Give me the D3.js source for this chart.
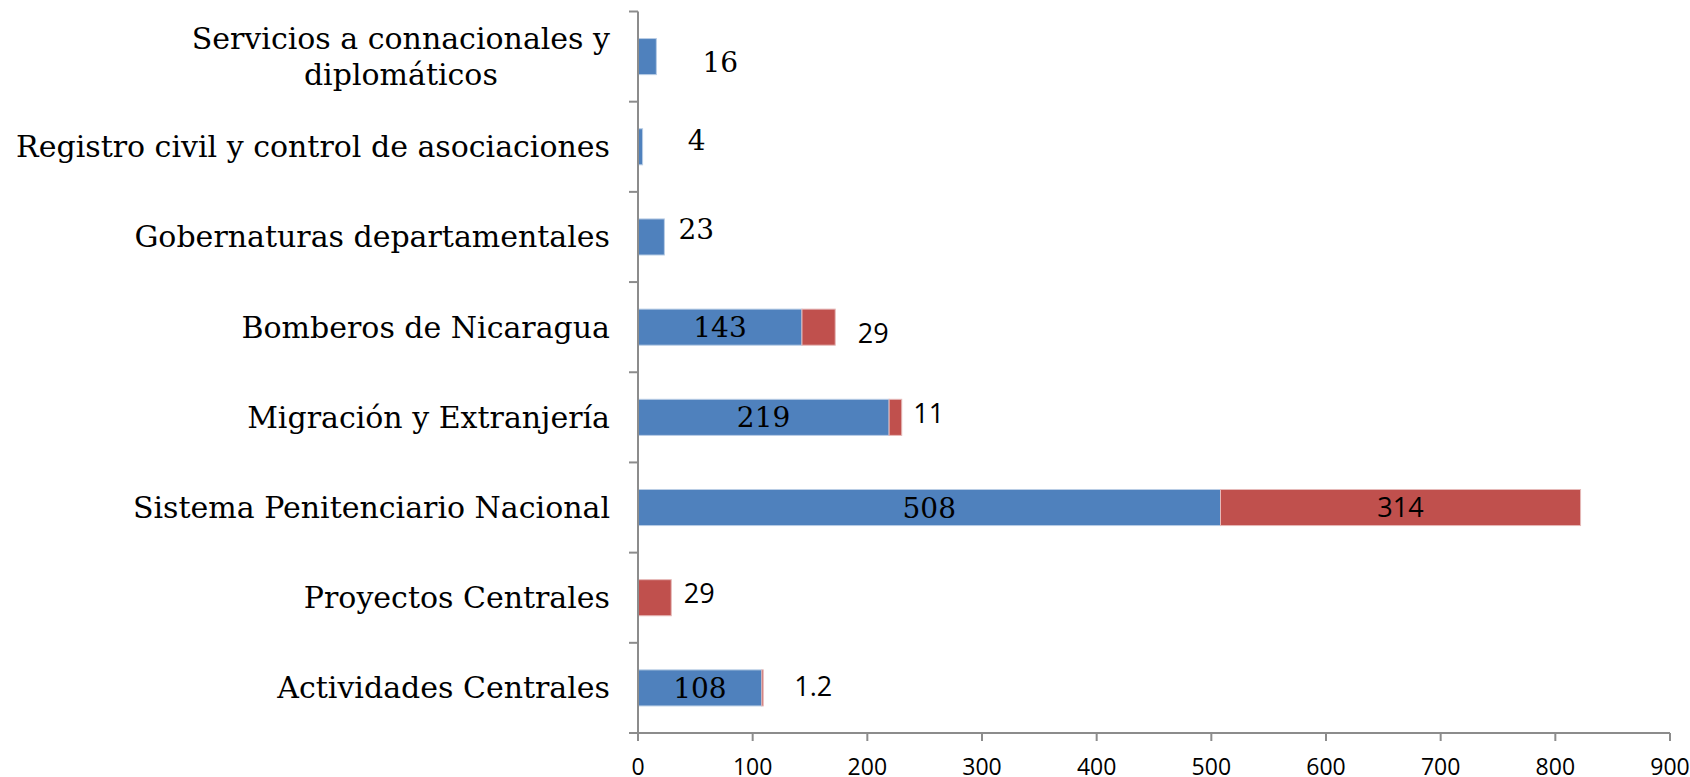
<!DOCTYPE html>
<html>
<head>
<meta charset="utf-8">
<script src="https://cdn.jsdelivr.net/npm/d3@7/dist/d3.min.js"></script>
<style>
  html, body { margin: 0; padding: 0; background: #ffffff; }
  svg { display: block; }
</style>
</head>
<body>
<svg id="chart" width="1690" height="777"></svg>
<script>
// ---- data (top to bottom as drawn) ----
const categories = [
  ["Servicios a connacionales y", "diplomáticos"],
  ["Registro civil y control de asociaciones"],
  ["Gobernaturas departamentales"],
  ["Bomberos de Nicaragua"],
  ["Migración y Extranjería"],
  ["Sistema Penitenciario Nacional"],
  ["Proyectos Centrales"],
  ["Actividades Centrales"]
];
const seriesBlue = [16, 4, 23, 143, 219, 508, 0, 108];
const seriesRed  = [0, 0, 0, 29, 11, 314, 29, 1.2];
const blueLabels = ["16", "4", "23", "143", "219", "508", "", "108"];
const redLabels  = ["", "", "", "29", "11", "314", "29", "1.2"];
const xTicks = [0, 100, 200, 300, 400, 500, 600, 700, 800, 900];

// ---- label placement (styling, not data) ----
// null => centered inside the segment; otherwise offset from the bar end
const blueLabelPlace = [
  {dx: 64, dy: 5}, {dx: 54, dy: -7}, {dx: 32, dy: -8},
  null, null, null, null, null
];
const redLabelPlace = [
  null, null, null,
  {dx: 38, dy: 6}, {dx: 27, dy: -4}, null, {dx: 28, dy: -4}, {dx: 50, dy: -1.5}
];

const svg = d3.select("#chart");
const x0 = 638, x1 = 1670, yTop = 11.5, yBot = 733;
const x = d3.scaleLinear().domain([0, 900]).range([x0, x1]);
const idx = d3.range(categories.length);
const y = d3.scaleBand().domain(idx).range([yTop, yBot]).paddingInner(0.6).paddingOuter(0.3);
const step = y.step();

const BLUE = "#4f81bd", RED = "#c0504d", AXIS = "#8c8c8c";
const SERIF = "'DejaVu Serif', serif";
const SANS = "'Open Sans', 'Liberation Sans', sans-serif";

// ---- bars ----
const g = svg.append("g");
g.selectAll("rect.blue").data(idx.filter(i => seriesBlue[i] > 0)).join("rect")
  .attr("class", "blue")
  .attr("x", x(0))
  .attr("y", i => y(i))
  .attr("width", i => x(seriesBlue[i]) - x(0))
  .attr("height", y.bandwidth())
  .attr("fill", BLUE)
  .attr("stroke", "#b9cde5").attr("stroke-width", 1);

g.selectAll("rect.red").data(idx.filter(i => seriesRed[i] > 0)).join("rect")
  .attr("class", "red")
  .attr("x", i => x(seriesBlue[i]))
  .attr("y", i => y(i))
  .attr("width", i => x(seriesBlue[i] + seriesRed[i]) - x(seriesBlue[i]))
  .attr("height", y.bandwidth())
  .attr("fill", RED)
  .attr("stroke", "#e6b9b8").attr("stroke-width", 1);

// ---- axes ----
const ax = svg.append("g").attr("stroke", AXIS).attr("stroke-width", 2).attr("fill", "none");
ax.append("line").attr("x1", x0).attr("x2", x0).attr("y1", yTop).attr("y2", yBot);
d3.range(categories.length + 1).forEach(k => {
  const yy = yTop + k * step;
  ax.append("line").attr("x1", x0 - 9).attr("x2", x0).attr("y1", yy).attr("y2", yy);
});
ax.append("line").attr("x1", x0 - 9).attr("x2", x1).attr("y1", yBot).attr("y2", yBot);
xTicks.forEach(t => {
  ax.append("line").attr("x1", x(t)).attr("x2", x(t)).attr("y1", yBot).attr("y2", yBot + 8);
});
svg.append("g").selectAll("text").data(xTicks).join("text")
  .attr("x", d => x(d))
  .attr("y", 775)
  .attr("text-anchor", "middle")
  .attr("font-family", SANS)
  .attr("font-size", 23)
  .attr("fill", "#000")
  .text(d => d);

// ---- category labels (block right-aligned, lines centered within block) ----
const cl = svg.append("g");
const rightEdge = 610;
idx.forEach(i => {
  const lines = categories[i];
  const cy = y(i) + y.bandwidth() / 2;
  const lh = 36.5;
  const nodes = lines.map((ln, j) => {
    const off = (j - (lines.length - 1) / 2) * lh;
    return cl.append("text")
      .attr("y", cy + off)
      .attr("dy", "0.35em")
      .attr("text-anchor", "middle")
      .attr("font-family", SERIF)
      .attr("font-size", 30)
      .attr("fill", "#000")
      .text(ln);
  });
  const w = d3.max(nodes, n => n.node().getComputedTextLength());
  nodes.forEach(n => n.attr("x", rightEdge - w / 2));
});

// ---- value labels ----
const vl = svg.append("g");
idx.forEach(i => {
  const cy = y(i) + y.bandwidth() / 2;
  const end = x(seriesBlue[i] + seriesRed[i]);
  if (blueLabels[i]) {
    const p = blueLabelPlace[i];
    const xx = p ? end + p.dx : (x(0) + x(seriesBlue[i])) / 2;
    const yy = p ? cy + p.dy : cy;
    vl.append("text").attr("x", xx).attr("y", yy).attr("dy", "0.36em")
      .attr("text-anchor", "middle").attr("font-family", SERIF).attr("font-size", 28)
      .attr("fill", "#000").text(blueLabels[i]);
  }
  if (redLabels[i]) {
    const p = redLabelPlace[i];
    const xx = p ? end + p.dx : (x(seriesBlue[i]) + end) / 2;
    const yy = p ? cy + p.dy : cy;
    vl.append("text").attr("x", xx).attr("y", yy).attr("dy", "0.36em")
      .attr("text-anchor", "middle").attr("font-family", SANS).attr("font-size", 27)
      .attr("fill", "#000").text(redLabels[i]);
  }
});
</script>
</body>
</html>
